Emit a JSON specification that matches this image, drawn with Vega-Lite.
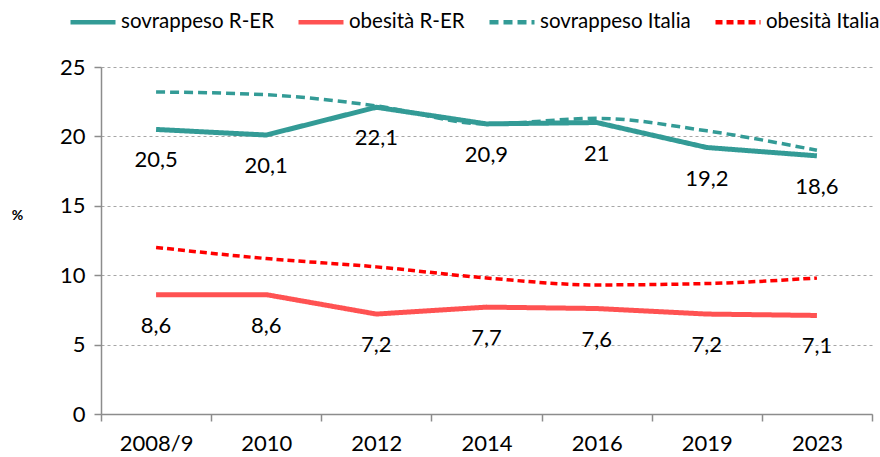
{
  "$schema": "https://vega.github.io/schema/vega-lite/v6.json",
  "width": 771,
  "height": 347,
  "autosize": "none",
  "padding": {"left": 101, "top": 67, "right": 8, "bottom": 43},
  "background": "white",
  "config": {
    "font": "Lato",
    "view": {"stroke": null},
    "locale": {"number": {"decimal": ",", "thousands": ".", "grouping": [3], "currency": ["", " €"]}}
  },
  "data": {
    "values": [
      {"anno": "2008/9", "serie": "sovrappeso R-ER", "valore": 20.5},
      {"anno": "2010", "serie": "sovrappeso R-ER", "valore": 20.1},
      {"anno": "2012", "serie": "sovrappeso R-ER", "valore": 22.1},
      {"anno": "2014", "serie": "sovrappeso R-ER", "valore": 20.9},
      {"anno": "2016", "serie": "sovrappeso R-ER", "valore": 21},
      {"anno": "2019", "serie": "sovrappeso R-ER", "valore": 19.2},
      {"anno": "2023", "serie": "sovrappeso R-ER", "valore": 18.6},
      {"anno": "2008/9", "serie": "obesità R-ER", "valore": 8.6},
      {"anno": "2010", "serie": "obesità R-ER", "valore": 8.6},
      {"anno": "2012", "serie": "obesità R-ER", "valore": 7.2},
      {"anno": "2014", "serie": "obesità R-ER", "valore": 7.7},
      {"anno": "2016", "serie": "obesità R-ER", "valore": 7.6},
      {"anno": "2019", "serie": "obesità R-ER", "valore": 7.2},
      {"anno": "2023", "serie": "obesità R-ER", "valore": 7.1},
      {"anno": "2008/9", "serie": "sovrappeso Italia", "valore": 23.2},
      {"anno": "2010", "serie": "sovrappeso Italia", "valore": 23.0},
      {"anno": "2012", "serie": "sovrappeso Italia", "valore": 22.2},
      {"anno": "2014", "serie": "sovrappeso Italia", "valore": 20.9},
      {"anno": "2016", "serie": "sovrappeso Italia", "valore": 21.3},
      {"anno": "2019", "serie": "sovrappeso Italia", "valore": 20.4},
      {"anno": "2023", "serie": "sovrappeso Italia", "valore": 19.0},
      {"anno": "2008/9", "serie": "obesità Italia", "valore": 12.0},
      {"anno": "2010", "serie": "obesità Italia", "valore": 11.2},
      {"anno": "2012", "serie": "obesità Italia", "valore": 10.6},
      {"anno": "2014", "serie": "obesità Italia", "valore": 9.8},
      {"anno": "2016", "serie": "obesità Italia", "valore": 9.3},
      {"anno": "2019", "serie": "obesità Italia", "valore": 9.4},
      {"anno": "2023", "serie": "obesità Italia", "valore": 9.8}
    ]
  },
  "encoding": {
    "x": {
      "field": "anno",
      "type": "ordinal",
      "sort": ["2008/9", "2010", "2012", "2014", "2016", "2019", "2023"],
      "bandPosition": 0.5,
      "scale": {"type": "band", "paddingInner": 0, "paddingOuter": 0},
      "axis": {
        "title": null,
        "labelAngle": 0,
        "labelFontSize": 22,
        "labelColor": "#000000",
        "labelPadding": 12,
        "tickBand": "extent",
        "tickSize": 7,
        "tickColor": "#8c8c8c",
        "tickWidth": 1.5,
        "domainColor": "#8c8c8c",
        "domainWidth": 1.5,
        "grid": false
      }
    },
    "y": {
      "field": "valore",
      "type": "quantitative",
      "scale": {"domain": [0, 25], "nice": false},
      "axis": {
        "values": [0, 5, 10, 15, 20, 25],
        "title": "%",
        "titleAngle": 0,
        "titleFontSize": 14,
        "titleFontWeight": "bold",
        "titleX": -84,
        "titleY": 148,
        "titleAlign": "center",
        "titleBaseline": "middle",
        "labelFontSize": 22,
        "labelColor": "#000000",
        "labelPadding": 9,
        "tickSize": 7,
        "tickColor": "#8c8c8c",
        "tickWidth": 1.5,
        "domainColor": "#8c8c8c",
        "domainWidth": 1.5,
        "grid": true,
        "gridColor": "#a6a6a6",
        "gridDash": [3, 3],
        "gridWidth": 1
      }
    }
  },
  "layer": [
    {
      "transform": [{"filter": "indexof(datum.serie, 'R-ER') >= 0"}],
      "mark": {"type": "line", "interpolate": "linear", "strokeCap": "butt"},
      "encoding": {
        "color": {
          "field": "serie", "type": "nominal",
          "scale": {"domain": ["sovrappeso R-ER", "obesità R-ER", "sovrappeso Italia", "obesità Italia"], "range": ["#339b96", "#ff5252", "#339b96", "#ff0000"]},
          "legend": {
            "title": null, "orient": "none", "direction": "horizontal",
            "legendX": -33, "legendY": -70,
            "symbolType": "stroke", "symbolSize": 2025, "symbolStrokeWidth": 4.5,
            "labelFontSize": 20.5, "labelColor": "#000000", "labelOffset": 3, "labelLimit": 400, "columnPadding": 15
          }
        },
        "strokeDash": {
          "field": "serie", "type": "nominal",
          "scale": {"domain": ["sovrappeso R-ER", "obesità R-ER", "sovrappeso Italia", "obesità Italia"], "range": [[1, 0], [1, 0], [9, 5], [7, 4]]},
          "legend": null
        },
        "strokeWidth": {"value": 5}
      }
    },
    {
      "transform": [{"filter": "indexof(datum.serie, 'Italia') >= 0"}],
      "mark": {"type": "line", "interpolate": "monotone", "strokeCap": "butt"},
      "encoding": {
        "color": {"field": "serie", "type": "nominal"},
        "strokeDash": {"field": "serie", "type": "nominal", "legend": null},
        "strokeWidth": {"value": 3.5}
      }
    },
    {
      "transform": [{"filter": "indexof(datum.serie, 'R-ER') >= 0"}],
      "mark": {"type": "text", "dy": 31, "baseline": "middle", "align": "center", "fontSize": 22, "color": "#000000"},
      "encoding": {
        "text": {"field": "valore", "type": "quantitative", "format": ".1~f"}
      }
    }
  ]
}
